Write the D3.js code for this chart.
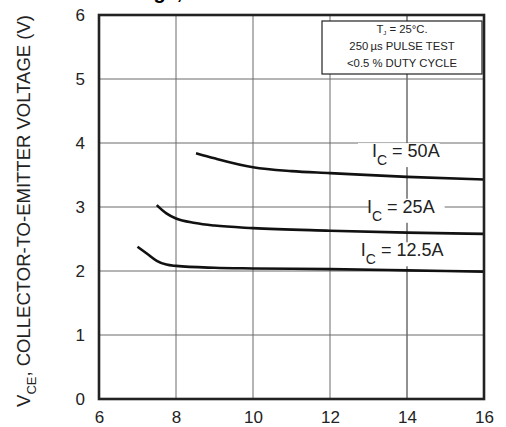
<!DOCTYPE html>
<html>
<head>
<meta charset="utf-8">
<script src="https://cdn.jsdelivr.net/npm/d3@7/dist/d3.min.js"></script>
<style>
  html, body { margin: 0; padding: 0; background: #fff; }
  svg { display: block; font-family: "Liberation Sans", Arial, sans-serif; }
</style>
</head>
<body>
<div id="chart"></div>
<script>
// V_CE vs V_GE, three collector currents
const xTicks = [6, 8, 10, 12, 14, 16];
const yTicks = [0, 1, 2, 3, 4, 5, 6];

const vge50 = [8.52, 9, 10, 11, 12, 14, 16];
const vce50 = [3.84, 3.76, 3.62, 3.56, 3.53, 3.47, 3.43];

const vge25 = [7.5, 7.75, 8, 8.5, 9, 10, 12, 14, 16];
const vce25 = [3.03, 2.9, 2.82, 2.75, 2.71, 2.67, 2.63, 2.6, 2.58];

const vge125 = [7, 7.25, 7.5, 7.75, 8, 9, 10, 12, 14, 16];
const vce125 = [2.38, 2.27, 2.16, 2.1, 2.08, 2.05, 2.04, 2.03, 2.01, 1.99];

const seriesLabels = ['= 50A', '= 25A', '= 12.5A'];
const noteLines = ['= 25°C.', '250\u2009µs PULSE TEST', '<0.5 % DUTY CYCLE'];

const width = 506, height = 427;
const margin = { left: 99, right: 22, top: 15, bottom: 28 };

const svg = d3.select('#chart').append('svg')
  .attr('width', width)
  .attr('height', height);

const x = d3.scaleLinear().domain([6, 16]).range([margin.left, width - margin.right]);
const y = d3.scaleLinear().domain([0, 6]).range([height - margin.bottom, margin.top]);

// title sits above the crop, only its descenders peek in
svg.append('text')
  .attr('x', 300)
  .attr('y', -1)
  .attr('text-anchor', 'middle')
  .attr('font-size', 20)
  .attr('font-weight', 'bold')
  .text('Saturation Voltage, Collector-to-Emitter vs. Gate Voltage, Temp');

// grid
const grid = svg.append('g').attr('stroke', '#6b6b6b').attr('stroke-width', 1);
grid.selectAll('line.vx')
  .data(xTicks.slice(1, -1))
  .enter().append('line')
  .attr('x1', d => x(d)).attr('x2', d => x(d))
  .attr('y1', y(0)).attr('y2', y(6))
  .attr('stroke', d => d === 14 ? '#222' : '#6b6b6b');
grid.selectAll('line.hy')
  .data(yTicks.slice(1, -1))
  .enter().append('line')
  .attr('x1', x(6)).attr('x2', x(16))
  .attr('y1', d => y(d)).attr('y2', d => y(d));

// axes (tick labels only, frame drawn separately)
const xAxis = svg.append('g')
  .attr('transform', `translate(0,${y(0)})`)
  .call(d3.axisBottom(x).tickValues(xTicks).tickFormat(d3.format('d')).tickSize(0).tickPadding(12));
const yAxis = svg.append('g')
  .attr('transform', `translate(${x(6)},0)`)
  .call(d3.axisLeft(y).tickValues(yTicks).tickFormat(d3.format('d')).tickSize(0).tickPadding(14));
[xAxis, yAxis].forEach(a => {
  a.select('.domain').remove();
  a.selectAll('text').attr('font-size', 17).attr('fill', '#222')
    .style('font-family', '"Liberation Sans", Arial, sans-serif');
});

// y axis title
const yTitle = svg.append('text')
  .attr('transform', `translate(30,${(y(0) + y(6)) / 2 + 4}) rotate(-90)`)
  .attr('text-anchor', 'middle')
  .attr('font-size', 18.5)
  .attr('fill', '#222');
yTitle.append('tspan').text('V');
yTitle.append('tspan').attr('font-size', 13).attr('dy', 6).text('CE');
yTitle.append('tspan').attr('dy', -6).text(', COLLECTOR-TO-EMITTER VOLTAGE (V)');

// curves
const line = d3.line()
  .x(d => x(d[0]))
  .y(d => y(d[1]))
  .curve(d3.curveMonotoneX);
const curves = [
  d3.zip(vge50, vce50),
  d3.zip(vge25, vce25),
  d3.zip(vge125, vce125)
];
svg.selectAll('path.curve')
  .data(curves)
  .enter().append('path')
  .attr('class', 'curve')
  .attr('d', line)
  .attr('fill', 'none')
  .attr('stroke', '#111')
  .attr('stroke-width', 2.6);

// curve labels with white knock-out behind them
const labelPos = [
  { vx: 13.09, vy: 3.78, bl: -14, br: 0 },
  { vx: 12.96, vy: 2.91, bl: 2, br: 10 },
  { vx: 12.8, vy: 2.23, bl: -6, br: 2 }
];
seriesLabels.forEach((lab, i) => {
  const p = labelPos[i];
  const g = svg.append('g');
  const t = g.append('text')
    .attr('x', x(p.vx))
    .attr('y', y(p.vy))
    .attr('font-size', 18)
    .attr('fill', '#222');
  t.append('tspan').text('I');
  t.append('tspan').attr('font-size', 14).attr('dy', 8).text('C');
  t.append('tspan').attr('dy', -8).text(' ' + lab);
  const bb = t.node().getBBox();
  g.insert('rect', 'text')
    .attr('x', bb.x + p.bl)
    .attr('y', bb.y + 2)
    .attr('width', bb.width - p.bl + p.br)
    .attr('height', bb.height - 3)
    .attr('fill', '#fff');
});

// frame
svg.append('rect')
  .attr('x', x(6)).attr('y', y(6))
  .attr('width', x(16) - x(6)).attr('height', y(0) - y(6))
  .attr('fill', 'none')
  .attr('stroke', '#222')
  .attr('stroke-width', 2.6);

// test condition note
const note = svg.append('g');
note.append('rect')
  .attr('x', 322).attr('y', 21)
  .attr('width', 160).attr('height', 53)
  .attr('fill', '#fff')
  .attr('stroke', '#222')
  .attr('stroke-width', 1.2);
noteLines.forEach((s, i) => {
  const t = note.append('text')
    .attr('x', 402)
    .attr('y', 33 + i * 17)
    .attr('text-anchor', 'middle')
    .attr('font-size', 11.3)
    .attr('fill', '#222');
  if (i === 0) {
    t.append('tspan').text('T');
    t.append('tspan').attr('font-size', 6).attr('dy', 2).text('J');
    t.append('tspan').attr('dy', -2).text(' ' + s);
  } else {
    t.text(s);
  }
});
</script>
</body>
</html>
